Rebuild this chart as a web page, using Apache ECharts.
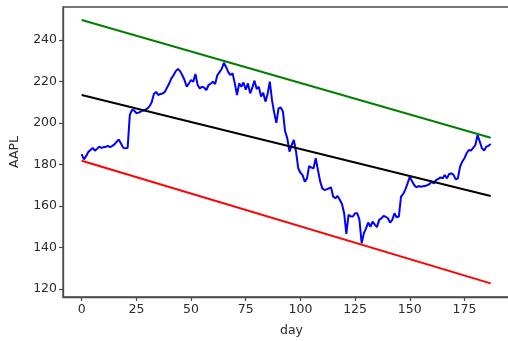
<!DOCTYPE html>
<html>
<head>
<meta charset="utf-8">
<title>AAPL channel</title>
<script src="https://cdn.jsdelivr.net/npm/echarts@6/dist/echarts.min.js"></script>
<style>
  html, body { margin: 0; padding: 0; background: #fff; }
  #chart { width: 508px; height: 341px; }
</style>
</head>
<body>
<div id="chart"></div>
<script>
// Daily closing prices
const days = [
  0,1,2,3,4,5,6,7,8,9,10,11,12,13,14,15,16,17,18,19,
  20,21,22,23,24,25,26,27,28,29,30,31,32,33,34,35,36,37,38,39,
  40,41,42,43,44,45,46,47,48,49,50,51,52,53,54,55,56,57,58,59,
  60,61,62,63,64,65,66,67,68,69,70,71,72,73,74,75,76,77,78,79,
  80,81,82,83,84,85,86,87,88,89,90,91,92,93,94,95,96,97,98,99,
  100,101,102,103,104,105,106,107,108,109,110,111,112,113,114,115,116,117,118,119,
  120,121,122,123,124,125,126,127,128,129,130,131,132,133,134,135,136,137,138,139,
  140,141,142,143,144,145,146,147,148,149,150,151,152,153,154,155,156,157,158,159,
  160,161,162,163,164,165,166,167,168,169,170,171,172,173,174,175,176,177,178,179,
  180,181,182,183,184,185,186,187
];
const aapl = [
  185,182.5,184,186,187,188,186.7,187.5,188.6,188,188.3,188.5,189,188.3,189,189.7,191,192,190,188,
  187.8,188,203.9,206.3,206,204.7,205,205.5,206,206.3,207,208,210,214,215,213.5,214,214.2,215,217,
  219,221.5,223,225,226,225,223,220.7,217.5,219,220.7,219.9,223.6,218.3,216.7,217.5,217,215.9,218.3,219,
  219.9,218.8,223,224.5,226,229,227,224.5,223.1,223.9,219.1,213.5,219.1,217.5,219.5,216,219.1,214.3,217,220.4,
  216.4,217.5,212.7,214.6,210.3,214,219.9,211.1,205,200.1,207,207.5,205.5,196,192.6,186.2,189.4,191.8,186.2,178.2,
  176,174.9,171.7,173.3,179.3,178.5,178.2,183,177.4,172,168.5,167.7,168,168.5,169,164.5,163.7,164.8,163,161,
  156.5,146.5,155.7,155,154.9,156.5,156.5,153.3,142,146.8,149.2,152,150,152.5,151,149.8,153.3,154,155.2,154.8,
  154.1,152,153.3,156.5,154.6,154.9,164.5,165.8,168,170.9,174.1,172,170.1,169,169.6,169.3,169.5,169.6,170.1,170.5,
  171.7,170.9,172.5,173,173.8,173.3,174.9,173.3,175.4,175.7,175,172.8,173.3,179,181.4,183,185.4,187,186.7,188,
  189.4,194.2,191,187.8,186.7,188.6,189,189.9
];

// Trend channel: end points of the upper, middle and lower lines
const channelDays = [0, 187];
const upperLine = [249.6, 192.9];
const middleLine = [213.5, 164.8];
const lowerLine = [181.8, 122.7];

// Axis ticks
const xTicks = [0, 25, 50, 75, 100, 125, 150, 175];
const yTicks = [120, 140, 160, 180, 200, 220, 240];

const pair = (xs, ys) => xs.map((x, i) => [x, ys[i]]);

const font = 'DejaVu Sans';
const spine = '#4a4a4a';
const textColor = '#2b2b2b';

const chart = echarts.init(document.getElementById('chart'), null, { renderer: 'canvas' });

const lineSeries = (name, data, color) => ({
  name, type: 'line', data, showSymbol: false, symbol: 'none',
  lineStyle: { color, width: 2 }, itemStyle: { color },
  silent: true, animation: false
});

const axisBase = (ticks) => ({
  type: 'value',
  nameLocation: 'middle',
  nameTextStyle: { fontFamily: font, fontSize: 12.5, color: textColor },
  axisLine: { show: true, onZero: false, lineStyle: { color: spine, width: 1.3 } },
  splitLine: { show: false },
  axisTick: { show: true, inside: false, length: 4, customValues: ticks,
    lineStyle: { color: spine, width: 1.2 } },
  axisLabel: { customValues: ticks, margin: 6, fontFamily: font, fontSize: 12.5, color: textColor }
});

chart.setOption({
  animation: false,
  backgroundColor: '#fff',
  grid: {
    show: true, left: 63, right: -12, top: 7, bottom: 44,
    containLabel: false, outerBoundsMode: 'none',
    borderColor: spine, borderWidth: 1.3, backgroundColor: 'transparent'
  },
  xAxis: Object.assign(axisBase(xTicks), {
    min: -8.55, max: 200.4, name: 'day', nameGap: 27
  }),
  yAxis: Object.assign(axisBase(yTicks), {
    min: 116.14, max: 255.9, name: 'AAPL', nameGap: 42
  }),
  series: [
    lineSeries('AAPL', pair(days, aapl), '#0000ff'),
    lineSeries('upper', pair(channelDays, upperLine), '#008000'),
    lineSeries('middle', pair(channelDays, middleLine), '#000000'),
    lineSeries('lower', pair(channelDays, lowerLine), '#ff0000')
  ]
});
</script>
</body>
</html>
